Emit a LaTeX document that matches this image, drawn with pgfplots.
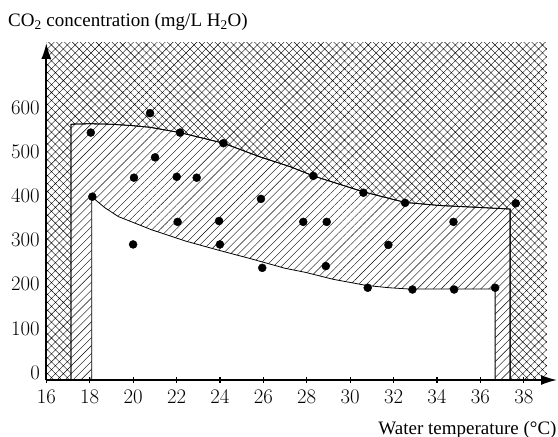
\documentclass[border=0pt]{standalone}
\usepackage{pgfplots}
\pgfplotsset{compat=1.18}
\usepackage{fontspec}
\setmainfont{Liberation Serif}
\usetikzlibrary{patterns.meta,arrows.meta}
\begin{document}
\begin{tikzpicture}
\useasboundingbox (-46.3pt,-57pt) rectangle (511.7pt,380pt);
\begin{axis}[
  at={(0,0)}, anchor=south west,
  scale only axis, width=510.7pt, height=337pt,
  xmin=16, xmax=39.53, ymin=-16.7, ymax=745.7,
  axis lines=left,
  axis line style={line width=1.6pt, -{Latex[length=16pt,width=10pt]}},
  axis on top,
  xtick={16,18,...,38}, ytick={0,100,...,600},
  tick align=center, major tick length=6pt,
  xtick style={line width=1.2pt, black},
  ytick style={draw=none},
  tick label style={font=\fontsize{20.5}{24}\selectfont},
  xticklabel style={yshift=-4pt},
  clip=false,
]
% cross-hatched background
\addplot[draw=none, pattern={Hatch[angle=45,distance=5.6pt,line width=0.4pt]}]
  coordinates {(16,-16.7) (39.06,-16.7) (39.06,745.7) (16,745.7)} -- cycle;
% diagonal hatched band (outer limit)
\addplot[draw=black, line width=0.8pt, fill=white,
  postaction={pattern={Lines[angle=45,distance=5.6pt,line width=0.4pt]}}]
  coordinates {(17.14,-16.7) (17.14,562) (18.0,563) (18.94,562) (19.9,559) (20.78,555) (22.16,543)
  (24.16,519) (25.85,488) (27.23,466) (28.30,445) (30.61,409) (32.53,385)
  (34.14,378) (35.83,374) (37.37,370) (37.37,-16.7)} -- cycle;
% inner white region
\addplot[draw=black, line width=0.8pt, fill=white]
  coordinates {(18.09,-16.7) (18.09,398) (18.7,373) (19.32,353) (20.86,323) (22.39,298)
  (23.93,277) (25.47,257) (27.00,236) (27.92,227) (29.23,211) (30.77,197)
  (31.8,192) (32.76,189) (36.60,189) (36.68,189) (36.68,-16.7)} -- cycle;
% data points
\addplot[only marks, mark=*, mark size=4pt, black] coordinates {
 (18.05,543) (20.78,587) (22.16,543) (24.16,519) (21.01,487) (20.04,441)
 (22.01,443) (22.93,441) (18.12,398) (25.89,393)
 (28.30,445) (30.61,407) (32.53,384) (37.63,383)
 (20.00,290) (22.05,341) (23.96,343) (24.00,290) (25.95,237)
 (27.84,341) (28.92,341) (34.76,341) (31.76,289) (28.88,241)
 (30.81,192) (32.87,188) (34.79,188) (36.68,192)
};
\end{axis}
\node[anchor=base west, inner sep=0pt, font=\fontsize{19}{22}\selectfont]
  at (-38.3pt,353.3pt) {CO\textsubscript{2} concentration (mg/L H\textsubscript{2}O)};
\node[anchor=base east, inner sep=0pt, font=\fontsize{19}{22}\selectfont]
  at (510.4pt,-54.3pt) {Water temperature (°C)};
\end{tikzpicture}
\end{document}
